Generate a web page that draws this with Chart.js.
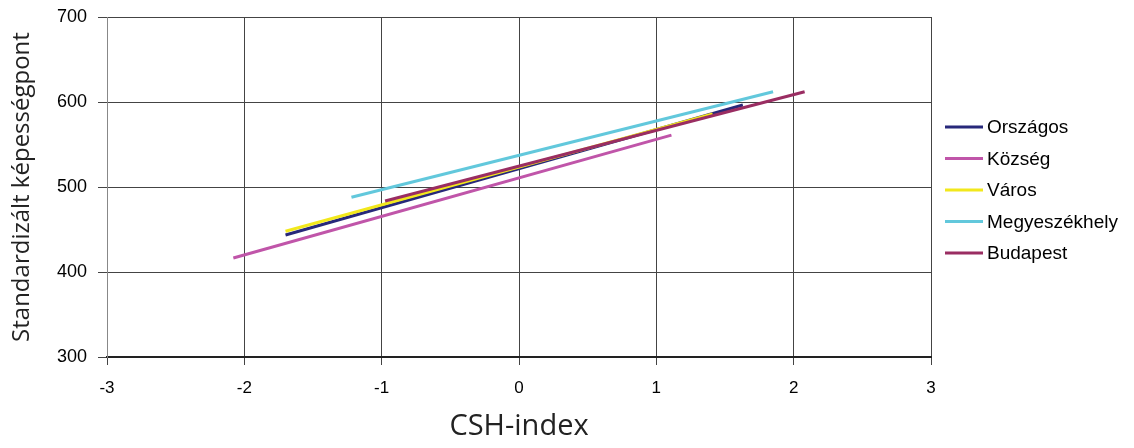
<!DOCTYPE html>
<html>
<head>
<meta charset="utf-8">
<script src="https://cdn.jsdelivr.net/npm/chart.js@4/dist/chart.umd.min.js"></script>
<style>
  html, body { margin: 0; padding: 0; background: #fff; }
  #wrap { width: 1134px; height: 448px; }
</style>
</head>
<body>
<div id="wrap"><canvas id="csh_chart" width="1134" height="448"></canvas></div>
<script>
// Series names and colours
const seriesNames = ["Országos", "Község", "Város", "Megyeszékhely", "Budapest"];
const seriesColors = ["#27287a", "#c055a9", "#f2e81c", "#62c8dc", "#9a2d62"];

// Start / end points of each regression line (CSH-index, score)
const orszagosX = [-1.70, 1.63];
const orszagosY = [443.5, 596.5];
const kozsegX = [-2.08, 1.11];
const kozsegY = [416.5, 561];
const varosX = [-1.70, 1.41];
const varosY = [448, 586];
const megyeX = [-1.22, 1.85];
const megyeY = [488, 612];
const budapestX = [-0.975, 2.08];
const budapestY = [483.5, 612];

const xTicks = [-3, -2, -1, 0, 1, 2, 3];
const yTicks = [300, 400, 500, 600, 700];

const allX = [orszagosX, kozsegX, varosX, megyeX, budapestX];
const allY = [orszagosY, kozsegY, varosY, megyeY, budapestY];

const datasets = seriesNames.map((name, i) => ({
  label: name,
  data: allX[i].map((x, j) => ({ x: x, y: allY[i][j] })),
  borderColor: seriesColors[i],
  backgroundColor: seriesColors[i],
  borderWidth: 3,
  pointRadius: 0,
  showLine: true,
  fill: false,
  order: seriesNames.length - 1 - i,
}));

// Legend drawn by hand to the right of the plot
const sideLegend = {
  id: "sideLegend",
  afterDraw(chart) {
    const c = chart.ctx;
    const x0 = chart.chartArea.right + 14;
    const top = 127;
    const step = 31.5;
    c.save();
    c.font = "19px 'Liberation Sans', Arial, sans-serif";
    c.textBaseline = "middle";
    c.fillStyle = "#000";
    chart.data.datasets.forEach((ds, i) => {
      const y = top + i * step;
      c.strokeStyle = ds.borderColor;
      c.lineWidth = 3;
      c.beginPath();
      c.moveTo(x0, y);
      c.lineTo(x0 + 38, y);
      c.stroke();
      c.fillText(ds.label, x0 + 42, y + 1);
    });
    c.restore();
  },
};

const ctx = document.getElementById("csh_chart").getContext("2d");

new Chart(ctx, {
  type: "scatter",
  data: { datasets: datasets },
  options: {
    responsive: false,
    animation: false,
    layout: { padding: { top: 17, right: 203, left: 0, bottom: 0 } },
    plugins: {
      tooltip: { enabled: false },
      legend: { display: false },
    },
    scales: {
      x: {
        type: "linear",
        min: -3,
        max: 3,
        afterBuildTicks: (s) => { s.ticks = xTicks.map((v) => ({ value: v })); },
        afterFit: (s) => { s.height = 91; s.paddingLeft = 0; s.paddingRight = 0; },
        grid: { color: "#444", lineWidth: 1, tickLength: 8, drawTicks: true },
        border: { color: "#222", width: 2 },
        ticks: {
          color: "#000",
          padding: 13,
          font: { family: "Liberation Sans, Arial, sans-serif", size: 17 },
        },
        title: {
          display: true,
          text: "CSH-index",
          color: "#222",
          padding: { top: 0, bottom: 4 },
          font: { family: "Open Sans, sans-serif", size: 29 },
        },
      },
      y: {
        type: "linear",
        min: 300,
        max: 700,
        afterBuildTicks: (s) => { s.ticks = yTicks.map((v) => ({ value: v })); },
        afterFit: (s) => { s.width = 107; s.paddingTop = 0; s.paddingBottom = 0; },
        grid: { color: "#444", lineWidth: 1, tickLength: 9, drawTicks: true },
        border: { color: "#888", width: 1 },
        ticks: {
          color: "#000",
          padding: 11,
          font: { family: "Liberation Sans, Arial, sans-serif", size: 18 },
        },
        title: {
          display: true,
          text: "Standardizált képességpont",
          color: "#222",
          padding: { top: 8, bottom: 0 },
          font: { family: "Open Sans, sans-serif", size: 24 },
        },
      },
    },
  },
  plugins: [sideLegend],
});
</script>
</body>
</html>
